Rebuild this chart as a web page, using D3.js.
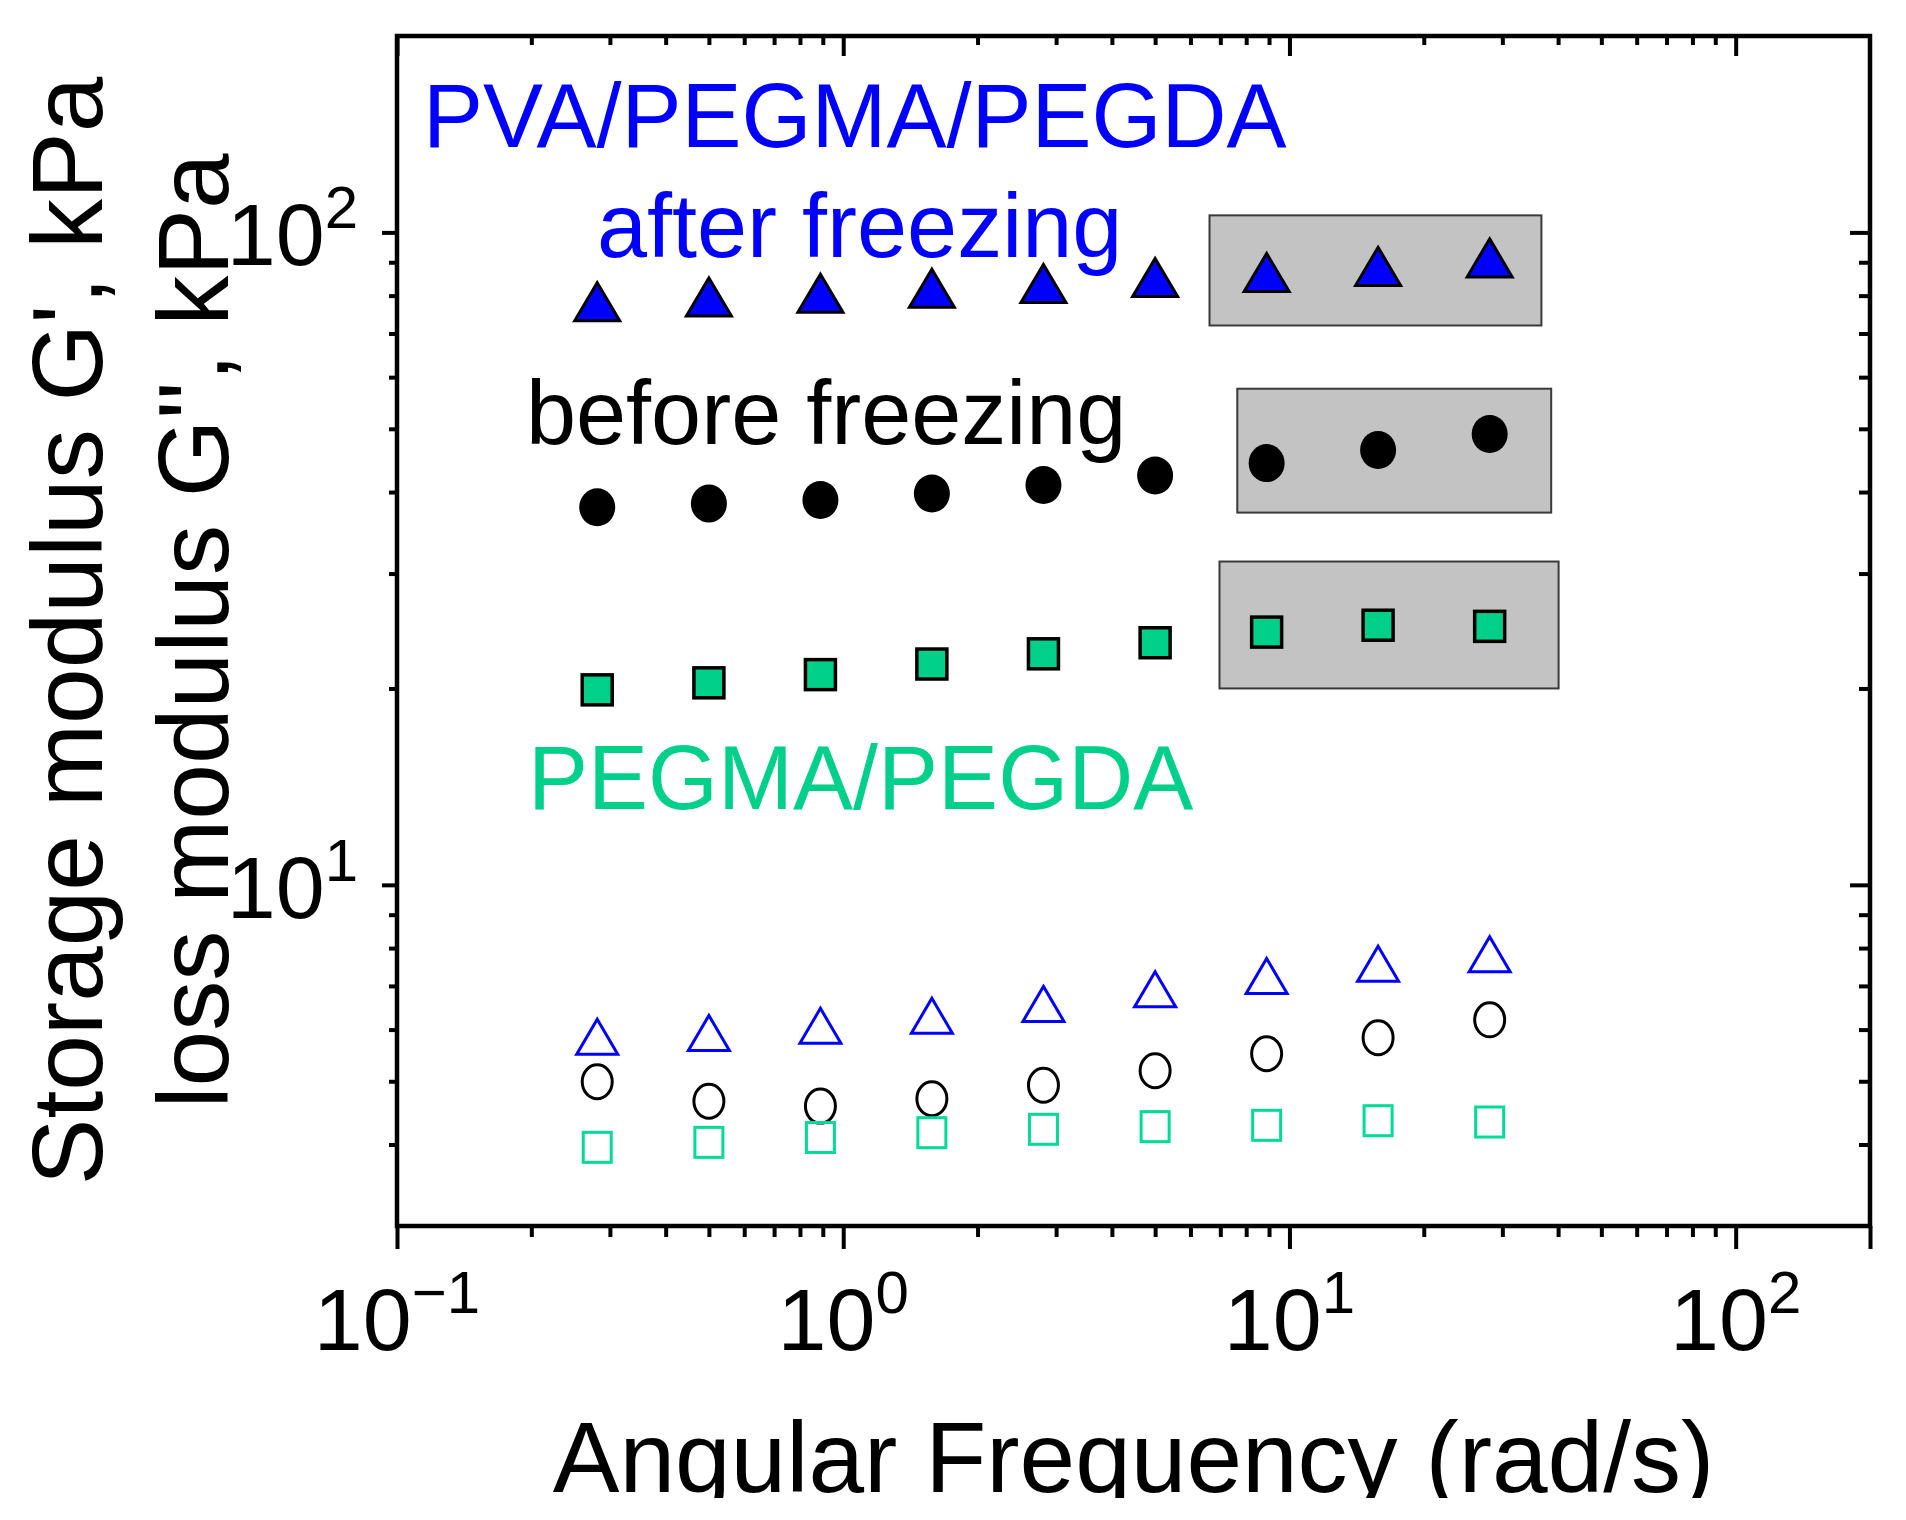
<!DOCTYPE html>
<html>
<head>
<meta charset="utf-8">
<script src="https://cdn.jsdelivr.net/npm/d3@7"></script>
<style>
  html, body { margin: 0; padding: 0; background: #ffffff; }
  svg { display: block; }
  text { font-family: "Liberation Sans", Arial, sans-serif; }
</style>
</head>
<body>
<svg id="chart" width="1906" height="1520"></svg>
<script>
// ---------------- data ----------------
const freq = [0.281, 0.5, 0.889, 1.58, 2.81, 5.0, 8.89, 15.8, 28.1];
const storagePVA    = [78.3, 79.6, 80.7, 82.1, 83.5, 85.3, 86.8, 88.7, 91.4];
const storageBefore = [37.9, 38.4, 38.9, 39.8, 41.0, 42.4, 44.3, 46.4, 49.1];
const storagePEG    = [19.9, 20.4, 21.0, 21.8, 22.6, 23.5, 24.4, 25.0, 24.9];
const lossPVA       = [5.85, 5.93, 6.08, 6.30, 6.57, 6.92, 7.25, 7.57, 7.83];
const lossBefore    = [4.99, 4.66, 4.58, 4.70, 4.93, 5.19, 5.51, 5.83, 6.21];
const lossPEG       = [3.96, 4.03, 4.10, 4.17, 4.22, 4.26, 4.28, 4.35, 4.33];

const xMajor = [0.1, 1, 10, 100];
const xMajorExp = ["\u22121", "0", "1", "2"];
const yMajor = [10, 100];
const yMajorExp = ["1", "2"];

// highlight boxes in data space: [xMin, xMax, yMin, yMax]
const boxTri = [6.62, 36.7, 72.0, 106.2];
const boxCir = [7.64, 38.6, 37.2, 57.6];
const boxSq  = [6.97, 40.1, 20.0, 31.3];

const labels = [
  {text: "PVA/PEGMA/PEGDA", color: "#0000ff"},
  {text: "after freezing", color: "#0000ff"},
  {text: "before freezing", color: "#000000"},
  {text: "PEGMA/PEGDA", color: "#00d08a"}
];

// ---------------- layout ----------------
const L = 397, R = 1870, T = 36, B = 1226;
const x = d3.scaleLog().domain([0.1, 200]).range([L, R]);
const y = d3.scaleLog().domain([3, 200]).range([B, T]);

const svg = d3.select("#chart");
svg.append("rect").attr("width", 1906).attr("height", 1520).attr("fill", "#fff");

const GREEN = "#00d08a";
const BLUE = "#0000ff";

// minor tick values
function minors(lo, hi) {
  const out = [];
  for (let e = -2; e <= 3; e++) {
    for (let m = 2; m <= 9; m++) {
      const v = m * Math.pow(10, e);
      if (v > lo * 1.0001 && v < hi * 0.9999) out.push(v);
    }
  }
  return out;
}
const xMinor = minors(0.1, 200);
const yMinor = minors(3, 200);

// ---------------- highlight boxes ----------------
[boxTri, boxCir, boxSq].forEach(b => {
  svg.append("rect")
    .attr("x", x(b[0])).attr("y", y(b[3]))
    .attr("width", x(b[1]) - x(b[0]))
    .attr("height", y(b[2]) - y(b[3]))
    .attr("fill", "#c3c3c3")
    .attr("stroke", "#3a3a3a")
    .attr("stroke-width", 2);
});

// ---------------- axes ----------------
function styleAxis(g) {
  g.select(".domain").remove();
  g.selectAll(".tick line").attr("stroke", "#000").attr("stroke-width", 4);
  g.selectAll(".tick text").remove();
}
// bottom (outward)
svg.append("g").attr("transform", `translate(0,${B})`)
  .call(d3.axisBottom(x).tickValues(xMinor).tickSize(11).tickFormat(""))
  .call(styleAxis);
svg.append("g").attr("transform", `translate(0,${B})`)
  .call(d3.axisBottom(x).tickValues(xMajor.concat([200])).tickSize(23).tickFormat(""))
  .call(styleAxis);
// top (inward)
svg.append("g").attr("transform", `translate(0,${T})`)
  .call(d3.axisBottom(x).tickValues(xMinor).tickSize(9).tickFormat(""))
  .call(styleAxis);
svg.append("g").attr("transform", `translate(0,${T})`)
  .call(d3.axisBottom(x).tickValues(xMajor).tickSize(20).tickFormat(""))
  .call(styleAxis);
// left (outward)
svg.append("g").attr("transform", `translate(${L},0)`)
  .call(d3.axisLeft(y).tickValues(yMinor).tickSize(8).tickFormat(""))
  .call(styleAxis);
svg.append("g").attr("transform", `translate(${L},0)`)
  .call(d3.axisLeft(y).tickValues(yMajor).tickSize(15).tickFormat(""))
  .call(styleAxis);
// right (inward)
svg.append("g").attr("transform", `translate(${R},0)`)
  .call(d3.axisLeft(y).tickValues(yMinor).tickSize(11).tickFormat(""))
  .call(styleAxis);
svg.append("g").attr("transform", `translate(${R},0)`)
  .call(d3.axisLeft(y).tickValues(yMajor).tickSize(20).tickFormat(""))
  .call(styleAxis);

// frame
svg.append("rect")
  .attr("x", L).attr("y", T).attr("width", R - L).attr("height", B - T)
  .attr("fill", "none").attr("stroke", "#000").attr("stroke-width", 4.5);

// tick labels
xMajor.forEach((v, i) => {
  const t = svg.append("text")
    .attr("x", x(v)).attr("y", 1350)
    .attr("text-anchor", "middle")
    .attr("font-size", 88).attr("fill", "#000");
  t.append("tspan").text("10");
  t.append("tspan").attr("font-size", 60).attr("dy", -37).text(xMajorExp[i]);
});
yMajor.forEach((v, i) => {
  const t = svg.append("text")
    .attr("x", 358).attr("y", y(v) + 33)
    .attr("text-anchor", "end")
    .attr("font-size", 88).attr("fill", "#000");
  t.append("tspan").text("10");
  t.append("tspan").attr("font-size", 60).attr("dy", -37).text(yMajorExp[i]);
});

// axis titles
svg.append("defs").append("clipPath").attr("id", "clipB")
  .append("rect").attr("x", 0).attr("y", 0).attr("width", 1906).attr("height", 1498);
svg.append("text")
  .attr("clip-path", "url(#clipB)")
  .attr("x", (L + R) / 2).attr("y", 1492)
  .attr("text-anchor", "middle").attr("font-size", 100).attr("fill", "#000")
  .text("Angular Frequency (rad/s)");

svg.append("text")
  .attr("transform", `translate(102,${(T + B) / 2}) rotate(-90)`)
  .attr("text-anchor", "middle").attr("font-size", 100).attr("fill", "#000")
  .text("Storage modulus G', kPa");
svg.append("text")
  .attr("transform", `translate(228,${(T + B) / 2}) rotate(-90)`)
  .attr("text-anchor", "middle").attr("font-size", 100).attr("fill", "#000")
  .text("loss modulus G'', kPa");

// ---------------- markers ----------------
function triPath(cx, cy, w, h) {
  return `M${cx},${cy - h / 2} L${cx + w / 2},${cy + h / 2} L${cx - w / 2},${cy + h / 2} Z`;
}
function pts(vals) { return freq.map((f, i) => ({f, v: vals[i]})); }

// storage (filled)
svg.append("g").selectAll("path").data(pts(storagePVA)).join("path")
  .attr("d", d => triPath(x(d.f), y(d.v), 45, 38))
  .attr("fill", BLUE).attr("stroke", "#000").attr("stroke-width", 3)
  .attr("stroke-linejoin", "miter");
svg.append("g").selectAll("ellipse").data(pts(storageBefore)).join("ellipse")
  .attr("cx", d => x(d.f)).attr("cy", d => y(d.v))
  .attr("rx", 18).attr("ry", 19).attr("fill", "#000");
svg.append("g").selectAll("rect").data(pts(storagePEG)).join("rect")
  .attr("x", d => x(d.f) - 15).attr("y", d => y(d.v) - 15)
  .attr("width", 30).attr("height", 30)
  .attr("fill", GREEN).attr("stroke", "#000").attr("stroke-width", 3.5);

// loss (open)
svg.append("g").selectAll("path").data(pts(lossPVA)).join("path")
  .attr("d", d => triPath(x(d.f), y(d.v), 41, 35))
  .attr("fill", "none").attr("stroke", BLUE).attr("stroke-width", 3);
svg.append("g").selectAll("ellipse").data(pts(lossBefore)).join("ellipse")
  .attr("cx", d => x(d.f)).attr("cy", d => y(d.v))
  .attr("rx", 15).attr("ry", 17).attr("fill", "none")
  .attr("stroke", "#000").attr("stroke-width", 3);
svg.append("g").selectAll("rect").data(pts(lossPEG)).join("rect")
  .attr("x", d => x(d.f) - 14).attr("y", d => y(d.v) - 15)
  .attr("width", 28).attr("height", 30)
  .attr("fill", "none").attr("stroke", "#00dc98").attr("stroke-width", 3);

// ---------------- annotations ----------------
const labelPos = [[423, 147], [597, 257], [526, 444], [528, 809]];
labels.forEach((l, i) => {
  svg.append("text")
    .attr("x", labelPos[i][0]).attr("y", labelPos[i][1])
    .attr("font-size", 90).attr("fill", l.color)
    .text(l.text);
});
</script>
</body>
</html>
